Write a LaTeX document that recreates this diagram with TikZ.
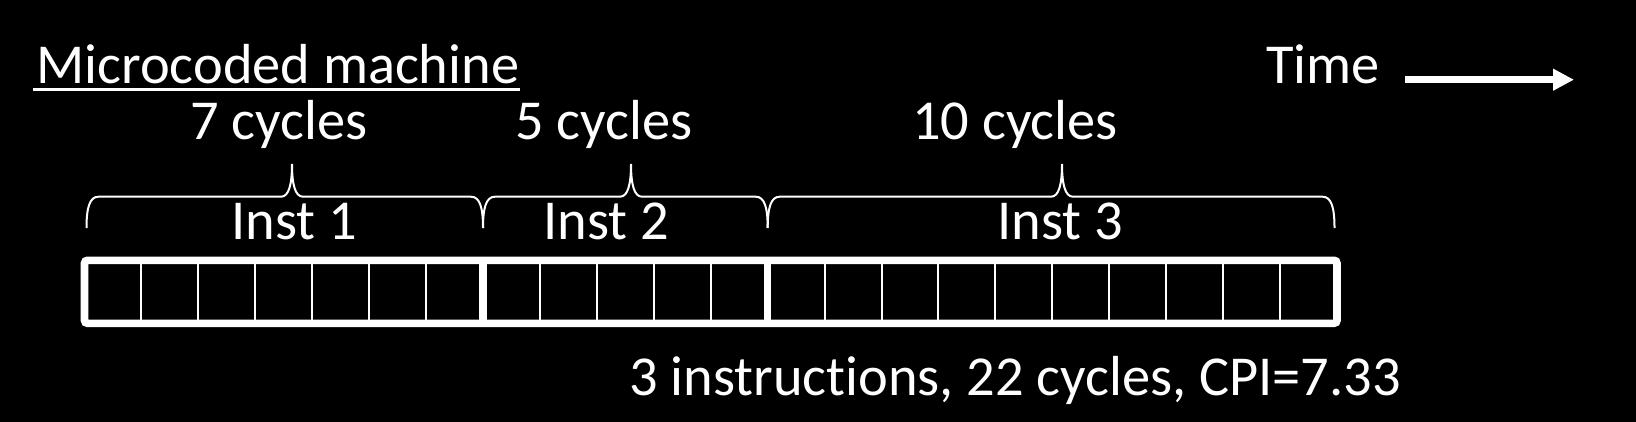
\documentclass[tikz,border=0pt]{standalone}
\usepackage{fontspec}
\setmainfont[Ligatures=NoCommon]{Carlito}
\usetikzlibrary{arrows.meta}
\newcommand\mybrace[3]{%
  \draw[bracestyle] (#1,228) .. controls (#1,208) and (#1+3,196.7) .. (#1+12,196.7)
    -- (#2-11,196.7) .. controls (#2-3,196.7) and (#2,184) .. (#2,164)
    .. controls (#2,184) and (#2+3,196.7) .. (#2+11,196.7)
    -- (#3-12,196.7) .. controls (#3-3,196.7) and (#3,208) .. (#3,228);}
\begin{document}
\begin{tikzpicture}[x=0.5pt,y=-0.5pt,
  lbl/.style={text=white,inner sep=0pt,font=\fontsize{28.2}{34}\selectfont},
  bracestyle/.style={draw=white,line width=1pt},
  thinline/.style={draw=white,line width=1pt},
  thickline/.style={draw=white,line width=3.8pt}]
\fill[black] (0,0) rectangle (1636,422);
\useasboundingbox (0,0) rectangle (1636,422);
% title
\node[lbl,anchor=base west] (title) at (36,83.5) {Microcoded machine};
\draw[white,line width=1.25pt] ([xshift=-1.5pt,yshift=-3pt]title.base west) -- ([yshift=-3pt]title.base east);
% time arrow
\node[lbl,anchor=base west] (time) at (1266,83.3) {Time};
\coordinate (a0) at (1405,79.7);
\coordinate (a1) at (1574,79.7);
\draw[white,line width=3.65pt,-{Triangle[length=10.5pt,width=10.3pt]}] (a0) -- (a1);
% cycle labels
\node[lbl,anchor=base] (c1) at (279,140) {7 cycles};
\node[lbl,anchor=base] (c2) at (604,140) {5 cycles};
\node[lbl,anchor=base] (c3) at (1015,140) {10 cycles};
% braces
\mybrace{86.5}{292}{483}
\mybrace{483}{631}{767.7}
\mybrace{767.7}{1062}{1334.5}
% inst labels
\node[lbl,anchor=base] (i1) at (294,239) {Inst 1};
\node[lbl,anchor=base] (i2) at (606,239) {Inst 2};
\node[lbl,anchor=base] (i3) at (1060,239) {Inst 3};
% cells
\foreach \k in {1,...,21} {\draw[thinline] (84.5+\k*56.932,260.3) -- (84.5+\k*56.932,323.3);}
\foreach \k in {7,12} {\draw[thickline] (84.5+\k*56.932,260.3) -- (84.5+\k*56.932,323.3);}
\draw[thickline,rounded corners=1.5pt] (84.5,260.3) rectangle (1337,323.3);
% summary
\node[lbl,anchor=base west] (sum) at (629,395) {3 instructions, 22 cycles, CPI=7.33};
\end{tikzpicture}
\end{document}
